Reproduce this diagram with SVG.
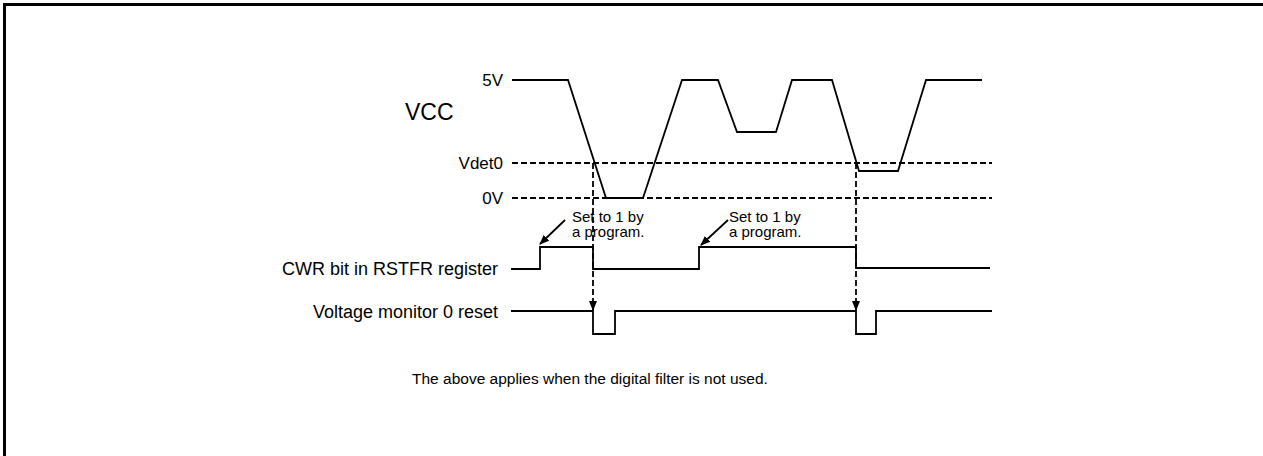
<svg xmlns="http://www.w3.org/2000/svg" width="1263" height="456" viewBox="0 0 1263 456">
<style>
.t{font-family:"Liberation Sans",Arial,sans-serif;fill:#000}
.n{font-size:15px}
.w{fill:none;stroke:#000;stroke-width:1.8}
.d{fill:none;stroke:#000;stroke-width:1.8;stroke-dasharray:6,3}
</style>
<defs>
<marker id="ah" markerWidth="10" markerHeight="10" refX="9" refY="5" orient="auto" markerUnits="userSpaceOnUse">
<path d="M0,1 L10,5 L0,9 Z" fill="#000"/>
</marker>
</defs>
<rect width="1263" height="456" fill="#fff"/>
<path d="M4.5,456 V4.5 H1263" fill="none" stroke="#000" stroke-width="3"/>
<g id="labels">
<text class="t" x="503" y="86" font-size="17" text-anchor="end">5V</text>
<text class="t" x="405" y="120" font-size="23">VCC</text>
<text class="t" x="503" y="169" font-size="17" text-anchor="end">Vdet0</text>
<text class="t" x="503" y="204" font-size="17" text-anchor="end">0V</text>
<text class="t" x="498" y="275" font-size="18" text-anchor="end">CWR bit in RSTFR register</text>
<text class="t" x="498" y="318" font-size="18" text-anchor="end">Voltage monitor 0 reset</text>
<text class="t" x="412" y="384" font-size="15.5">The above applies when the digital filter is not used.</text>
</g>
<g id="note1">
<text class="t n" x="572" y="222">Set to 1 by</text>
<text class="t n" x="572" y="237">a program.</text>
</g>
<g id="note2">
<text class="t n" x="729" y="222">Set to 1 by</text>
<text class="t n" x="729" y="237">a program.</text>
</g>
<g id="levels">
<path class="d" d="M512,163 H992"/>
<path class="d" d="M512,198 H992"/>
</g>
<g id="vcc">
<path class="w" d="M512,80 H568 L606,198 H643 L682,80 H718 L737,132 H776 L792,80 H832 L859,171 H898 L926,80 H982"/>
</g>
<g id="cwr">
<path class="w" d="M511,269 H540 V247 H593 V269 H699 V247 H856 V268 H990"/>
</g>
<g id="reset">
<path class="w" d="M511,311 H593 V334 H615 V311 H856 V334 H876 V311 H992"/>
</g>
<g id="connectors">
<path class="d" d="M593,163 V310" marker-end="url(#ah)"/>
<path class="d" d="M856,163 V310" marker-end="url(#ah)"/>
<path class="w" d="M565,220 L540,244" marker-end="url(#ah)"/>
<path class="w" d="M728,220 L701,245" marker-end="url(#ah)"/>
</g>
</svg>
